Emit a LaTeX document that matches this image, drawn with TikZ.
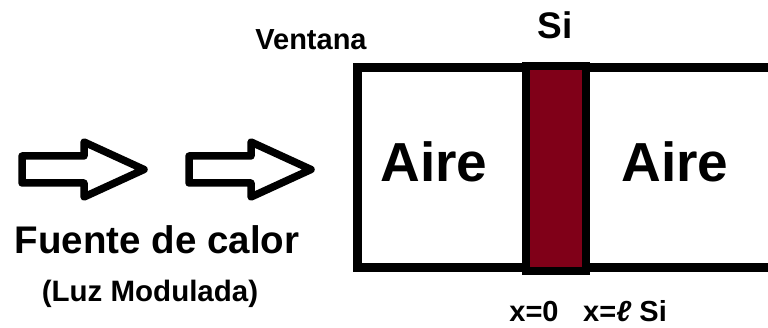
\documentclass[tikz,border=0pt]{standalone}
\usepackage{fontspec}
\setmainfont{Liberation Sans}
\definecolor{sired}{HTML}{800018}
\begin{document}
\begin{tikzpicture}[x=1pt,y=-1pt,
  blockarrow/.style={draw=black,line width=7.5,line join=round,fill=white},
  frame/.style={draw=black,line width=9},
  lbl/.style={anchor=base,inner sep=0pt,font=\bfseries}]
\useasboundingbox (0,0) rectangle (768,328);
% block arrows
\foreach \dx in {0,167}{
  \draw[blockarrow,shift={(\dx,0)}] (22,156) -- (84,156) -- (84,142) -- (144,169.5)
     -- (84,197) -- (84,183) -- (22,183) -- cycle;
}
% window frame
\draw[frame] (768,68) -- (357.5,68) -- (357.5,268) -- (768,268);
% silicon layer
\draw[draw=black,line width=8,fill=sired] (526,66) rectangle (586,271);
% labels
\node[lbl,font=\bfseries\fontsize{29}{30}\selectfont] (ventana) at (311,50) {Ventana};
\node[lbl,font=\bfseries\fontsize{37}{40}\selectfont] (si) at (555,39) {Si};
\node[lbl,font=\bfseries\fontsize{55}{60}\selectfont] (aire1) at (434,182) {Aire};
\node[lbl,font=\bfseries\fontsize{55}{60}\selectfont] (aire2) at (675,182) {Aire};
\node[lbl,font=\bfseries\fontsize{38.5}{40}\selectfont] (fuente) at (157,254) {Fuente de calor};
\node[lbl,font=\bfseries\fontsize{29.5}{30}\selectfont] (luz) at (150,302) {(Luz Modulada)};
\node[lbl,font=\bfseries\fontsize{29}{30}\selectfont] (x0) at (534,322) {x=0};
\node[lbl,font=\bfseries\fontsize{29}{30}\selectfont] (xl) at (625,322) {x=\textit{ℓ} Si};
\end{tikzpicture}
\end{document}
